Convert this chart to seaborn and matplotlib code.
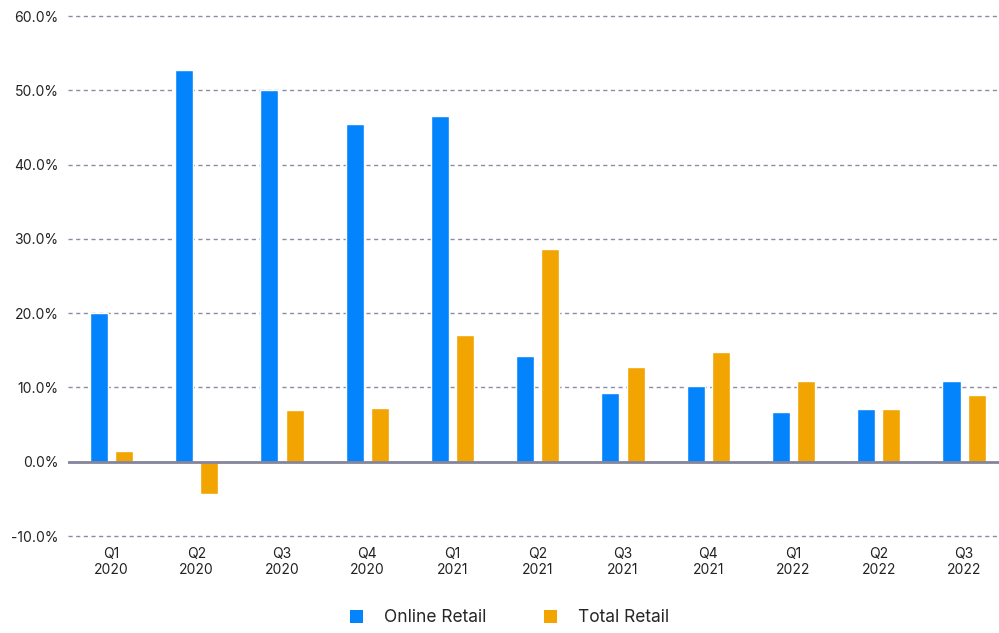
import matplotlib
matplotlib.use("Agg")
import matplotlib.pyplot as plt
from matplotlib.patches import Patch
from matplotlib.ticker import FuncFormatter, MultipleLocator
import seaborn as sns
import pandas as pd

quarters = ["Q1\n2020", "Q2\n2020", "Q3\n2020", "Q4\n2020",
            "Q1\n2021", "Q2\n2021", "Q3\n2021", "Q4\n2021",
            "Q1\n2022", "Q2\n2022", "Q3\n2022"]
online_retail = [20.0, 52.7, 50.0, 45.4, 46.6, 14.2, 9.3, 10.2, 6.7, 7.1, 10.8]
total_retail = [1.4, -4.3, 6.9, 7.2, 17.0, 28.7, 12.7, 14.8, 10.8, 7.1, 9.0]
series_names = ["Online Retail", "Total Retail"]
colors = ["#0384FC", "#F2A500"]

df = pd.DataFrame({
    "quarter": quarters * 2,
    "value": online_retail + total_retail,
    "series": [series_names[0]] * len(quarters) + [series_names[1]] * len(quarters),
})

sns.set_theme(style="white")
plt.rcParams["font.family"] = ["Inter", "DejaVu Sans"]

fig = plt.figure(figsize=(9.99, 6.33), dpi=100)
ax = fig.add_axes([68 / 999, (633 - 536) / 633, 931 / 999, 520 / 633])

sns.barplot(data=df, x="quarter", y="value", hue="series", order=quarters,
            hue_order=series_names, palette=colors, width=0.59, gap=0.28,
            saturation=1, ax=ax, legend=False)

ax.set_ylim(-10, 60)
ax.set_xlim(-0.51, 10.41)
ax.yaxis.set_major_locator(MultipleLocator(10))
ax.yaxis.set_major_formatter(FuncFormatter(lambda v, _: f"{v:.1f}%"))
ax.set_xlabel("")
ax.set_ylabel("")

# dashed horizontal guides, with a solid baseline at zero
for v in range(-10, 61, 10):
    if v == 0:
        continue
    ax.axhline(v, color="#8C8CA4", lw=1.0, ls=(0, (3, 2.5)), zorder=0, clip_on=False)
ax.axhline(0, color="#84849A", lw=2.0, zorder=3)

for s in ax.spines.values():
    s.set_visible(False)
ax.tick_params(axis="both", length=0, labelsize=10, colors="#222222")
ax.tick_params(axis="y", pad=7)
ax.tick_params(axis="x", pad=8)
for lbl in ax.get_xticklabels():
    lbl.set_linespacing(1.2)

handles = [Patch(facecolor=c, edgecolor="none") for c in colors]
fig.legend(handles, series_names, loc="center", bbox_to_anchor=(0.51, 1 - 618 / 633),
           ncol=2, frameon=False, fontsize=12.5, handlelength=0.75, handleheight=0.75,
           handletextpad=1.2, columnspacing=3.3)

fig.savefig("out.png", dpi=100, facecolor="white")
